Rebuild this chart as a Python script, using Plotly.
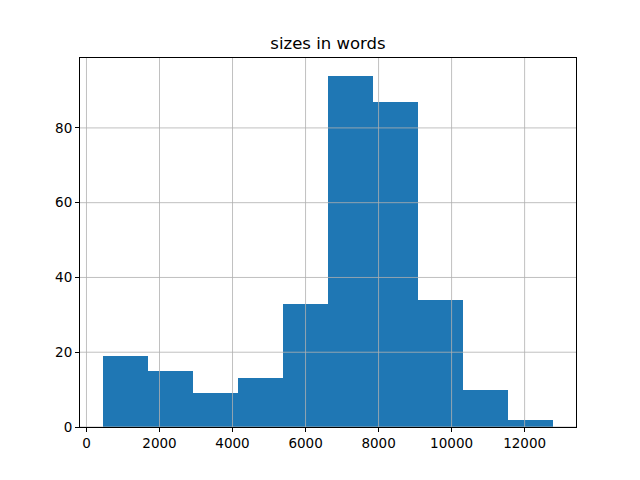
import plotly.graph_objects as go

# Histogram data
bin_start = 440
bin_width = 1235
counts = [19, 15, 9, 13, 33, 94, 87, 34, 10, 2]
x_ticks = [0, 2000, 4000, 6000, 8000, 10000, 12000]
y_ticks = [0, 20, 40, 60, 80]
title_text = "sizes in words"

n = len(counts)
edges = [bin_start + i * bin_width for i in range(n + 1)]
centers = [(edges[i] + edges[i + 1]) / 2 for i in range(n)]
span = edges[-1] - edges[0]
x_range = [edges[0] - 0.05 * span, edges[-1] + 0.05 * span]
y_range = [0, max(counts) * 1.05]

fig = go.Figure()
fig.add_trace(go.Bar(
    x=centers, y=counts, width=[bin_width] * n,
    marker=dict(color="#1f77b4", line=dict(width=0)),
    hoverinfo="x+y",
))

grid = dict(color="#b0b0b0", width=0.8)
shapes = []
for t in x_ticks:
    shapes.append(dict(type="line", xref="x", yref="paper", x0=t, x1=t, y0=0, y1=1,
                       line=grid, layer="above"))
for t in y_ticks:
    shapes.append(dict(type="line", xref="paper", yref="y", x0=0, x1=1, y0=t, y1=t,
                       line=grid, layer="above"))

axis_common = dict(
    showgrid=False, zeroline=False, showline=True, linecolor="black", linewidth=1,
    mirror=True, ticks="outside", ticklen=4, tickwidth=1, tickcolor="black",
    tickfont=dict(family="DejaVu Sans", size=13.5, color="black"),
    layer="above traces",
)

fig.update_layout(
    width=640, height=480,
    margin=dict(l=80, r=64, t=58, b=53),
    paper_bgcolor="white", plot_bgcolor="white",
    showlegend=False,
    title=dict(text=title_text, x=(80 + 576) / 2 / 640, xanchor="center",
               y=1 - 43 / 480, yanchor="middle",
               font=dict(family="DejaVu Sans", size=16.5, color="black")),
    xaxis=dict(range=x_range, tickvals=x_ticks, ticktext=[str(t) for t in x_ticks], **axis_common),
    yaxis=dict(range=y_range, tickvals=y_ticks, ticktext=[str(t) for t in y_ticks], **axis_common),
    shapes=shapes,
    bargap=0,
)

fig.write_html("out.html", config={"displayModeBar": False},
               post_script="document.body.style.margin='0';")
